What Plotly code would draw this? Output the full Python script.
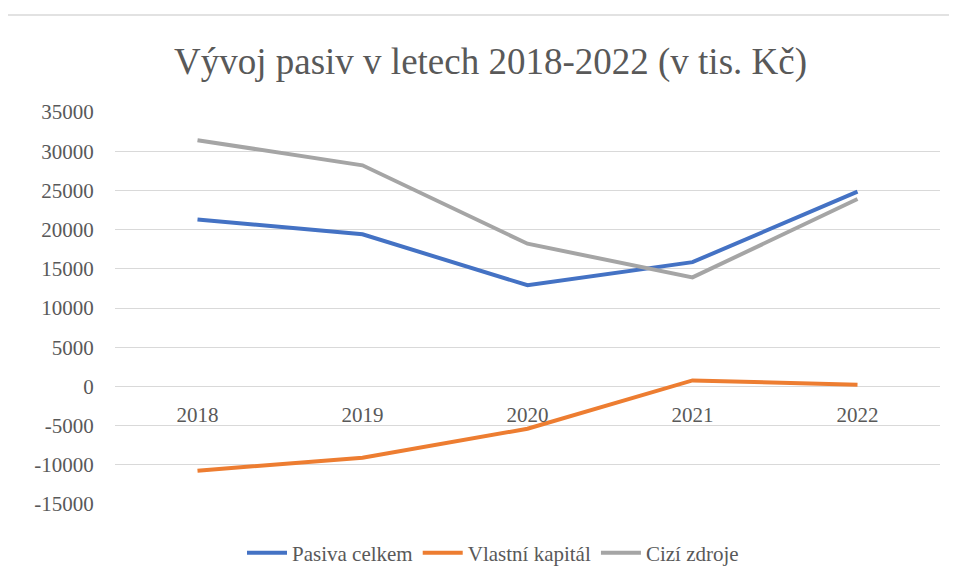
import plotly.graph_objects as go

# Years (categories)
years = ["2018", "2019", "2020", "2021", "2022"]

# Values in thousands CZK
pasiva_celkem = [21300, 19400, 12900, 15850, 24850]
vlastni_kapital = [-10750, -9100, -5400, 760, 210]
cizi_zdroje = [31400, 28200, 18200, 13900, 23900]

series_names = ["Pasiva celkem", "Vlastní kapitál", "Cizí zdroje"]
series_colors = ["#4472C4", "#ED7D31", "#A5A5A5"]

y_ticks = list(range(-15000, 35001, 5000))

title_text = "Vývoj pasiv v letech 2018-2022 (v tis. Kč)"

serif = "Times New Roman"
text_color = "rgb(89,89,89)"
grid_color = "#D9D9D9"

fig = go.Figure()
for name, vals, color in zip(series_names,
                             [pasiva_celkem, vlastni_kapital, cizi_zdroje],
                             series_colors):
    fig.add_trace(go.Scatter(x=years, y=vals, name=name, mode="lines",
                             line=dict(color=color, width=4)))

# page body has an 8px default margin, so work in page pixels minus 8
off = 8
W, H = 957 - off, 586 - off
ml, mr, mt, mb = 115 - off, 17, 112 - off, 82
plot_w = W - ml - mr
plot_h = H - mt - mb


def px_x(x):
    # page pixel -> paper x fraction
    return (x - off - ml) / plot_w


def px_y(y):
    # page pixel -> paper y fraction
    return (H - mb - (y - off)) / plot_h


fig.update_layout(
    width=W, height=H,
    margin=dict(l=ml, r=mr, t=mt, b=mb, autoexpand=False),
    paper_bgcolor="white",
    plot_bgcolor="white",
    font=dict(family=serif, color=text_color),
    showlegend=True,
    legend=dict(orientation="h", x=px_x(493), xanchor="center",
                y=px_y(553), yanchor="middle",
                font=dict(size=21, color=text_color, family=serif),
                itemwidth=40, tracegroupgap=0),
)

# title as an annotation so it can sit in the top margin
fig.add_annotation(text=title_text, xref="paper", yref="paper",
                   x=px_x(490), y=px_y(62), xanchor="center", yanchor="middle",
                   showarrow=False,
                   font=dict(size=37, color=text_color, family=serif))

# y position of zero line within the plot, as paper fraction
zero_pos = (0 - y_ticks[0]) / (y_ticks[-1] - y_ticks[0])

fig.update_xaxes(
    type="category", range=[-0.5, 4.5],
    showgrid=False, zeroline=False, showline=False,
    anchor="free", position=zero_pos,
    ticks="", ticklabelstandoff=14,
    tickfont=dict(size=21, color=text_color, family=serif),
)
fig.update_yaxes(
    range=[y_ticks[0], y_ticks[-1]],
    tickvals=y_ticks, ticktext=[str(v) for v in y_ticks],
    showgrid=True, gridcolor=grid_color, gridwidth=1.3,
    zeroline=False, showline=False,
    ticks="outside", ticklen=16, tickcolor="rgba(0,0,0,0)",
    tickfont=dict(size=21, color=text_color, family=serif),
)

# outer chart border (chart area is cropped on right and bottom)
fig.add_shape(type="rect", xref="paper", yref="paper",
              x0=px_x(5), x1=px_x(980), y0=px_y(610), y1=px_y(15),
              line=dict(color=grid_color, width=1.5), layer="below")

fig.write_html("out.html")
